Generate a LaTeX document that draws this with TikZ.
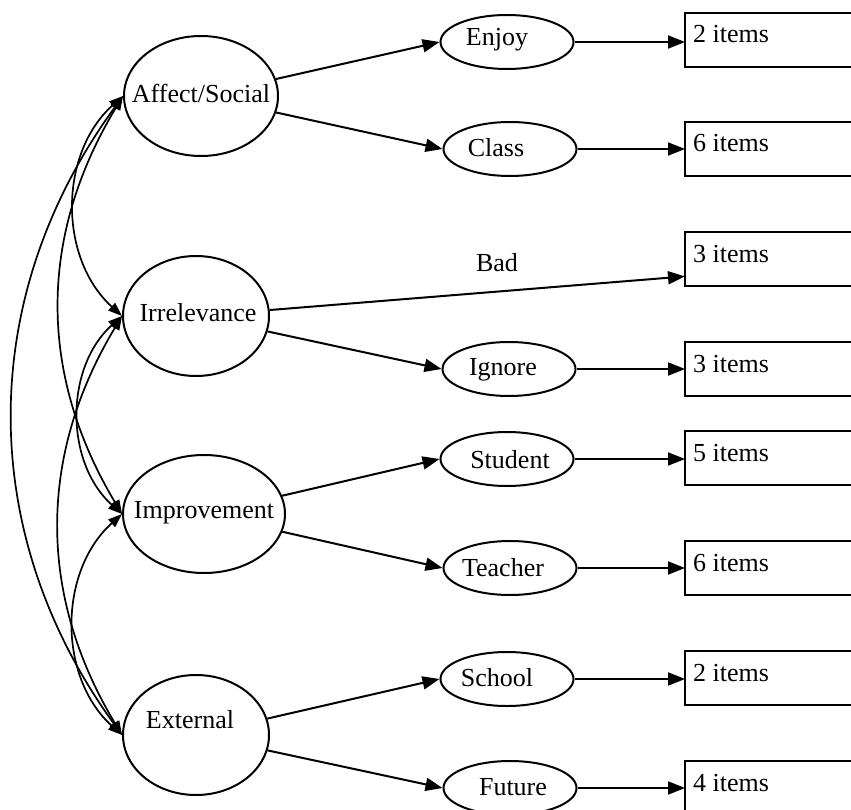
\documentclass[tikz,border=0pt]{standalone}
\usepackage{fontspec}
\setmainfont{Liberation Serif}
\usetikzlibrary{arrows.meta,calc,shapes.geometric}
\begin{document}
\begin{tikzpicture}[x=1pt,y=-1pt,
  every node/.style={font=\fontsize{26}{30}\selectfont},
  bigell/.style={ellipse,draw,line width=2pt,inner sep=0pt,minimum height=120pt},
  smallell/.style={ellipse,draw,line width=2pt,inner sep=0pt,minimum width=133pt,minimum height=54pt},
  boxnode/.style={rectangle,inner sep=0pt,minimum width=170pt,minimum height=54pt,anchor=north west},
  boxline/.style={line width=2pt},
  itemtext/.style={anchor=base west,inner sep=0pt},
  arr/.style={line width=2pt,-{Triangle[length=17pt,width=13pt]}},
  cov/.style={line width=1.7pt,{Triangle[length=14pt,width=10pt]}-{Triangle[length=14pt,width=10pt]}}
]
\useasboundingbox (0,0) rectangle (851,810);

% factors
\node[bigell,minimum width=154pt] (aff) at (201,96) {};
\node (afft) at (201,93) {Affect/Social};
\node[bigell,minimum width=146pt] (irr) at (196,316) {};
\node (irrt) at (198,313) {Irrelevance};
\node[bigell,minimum width=162pt,minimum height=118pt] (imp) at (204,514) {};
\node (impt) at (204,513) {Improvement};
\node[bigell,minimum width=146pt] (ext) at (196,735) {};
\node (extt) at (190,720) {External};

% subfactors
\node[smallell] (enjoy) at (507,42) {};
\node (enjoyt) at (497,40) {Enjoy};
\node[smallell] (class) at (510,149) {};
\node (classt) at (496,148) {Class};
\node[smallell] (ignore) at (509,369) {};
\node (ignoret) at (503,370) {Ignore};
\node[smallell] (student) at (507,459) {};
\node (studentt) at (510,460) {Student};
\node[smallell] (teacher) at (510,568) {};
\node (teachert) at (503,568) {Teacher};
\node[smallell] (school) at (507,679) {};
\node (schoolt) at (497,678) {School};
\node[smallell] (future) at (510,788) {};
\node (futuret) at (513,787) {Future};

% item boxes
\foreach \n/\y in {b1/13,b2/122,b3/232,b4/342,b5/431,b6/541,b7/651,b8/761}{
  \node[boxnode] (\n) at (685,\y) {};
  \draw[boxline] (\n.north east) -- (\n.north west) -- (\n.south west) -- (\n.south east);
}
\node[itemtext] (t1) at ($(b1.north west)+(8,30)$) {2 items};
\node[itemtext] (t2) at ($(b2.north west)+(8,30)$) {6 items};
\node[itemtext] (t3) at ($(b3.north west)+(8,30)$) {3 items};
\node[itemtext] (t4) at ($(b4.north west)+(8,30)$) {3 items};
\node[itemtext] (t5) at ($(b5.north west)+(8,30)$) {5 items};
\node[itemtext] (t6) at ($(b6.north west)+(8,30)$) {6 items};
\node[itemtext] (t7) at ($(b7.north west)+(8,30)$) {2 items};
\node[itemtext] (t8) at ($(b8.north west)+(8,30)$) {4 items};

% factor -> subfactor
\draw[arr] (aff) -- (enjoy.west);
\draw[arr] (aff) -- (class.west);
\draw[arr] (irr) -- ([yshift=10pt]b3.south west);
\node (badl) at (497,263) {Bad};
\draw[arr] (irr) -- (ignore.west);
\draw[arr] (imp) -- (student.west);
\draw[arr] (imp) -- (teacher.west);
\draw[arr] (ext) -- (school.west);
\draw[arr] (ext) -- (future.west);

% subfactor -> items
\draw[arr] (enjoy.east) -- (enjoy.east -| b1.west);
\draw[arr] (class.east) -- (class.east -| b2.west);
\draw[arr] (ignore.east) -- (ignore.east -| b4.west);
\draw[arr] (student.east) -- (student.east -| b5.west);
\draw[arr] (teacher.east) -- (teacher.east -| b6.west);
\draw[arr] (school.east) -- (school.east -| b7.west);
\draw[arr] (future.east) -- (future.east -| b8.west);

% covariances
\draw[cov] (aff.west) to[bend right=48] (irr.west);
\draw[cov] (aff.west) to[bend right=31] (imp.west);
\draw[cov] (aff.west) to[bend right=36] (ext.west);
\draw[cov] (irr.west) to[bend right=48] (imp.west);
\draw[cov] (irr.west) to[bend right=31] (ext.west);
\draw[cov] (imp.west) to[bend right=48] (ext.west);
\end{tikzpicture}
\end{document}
